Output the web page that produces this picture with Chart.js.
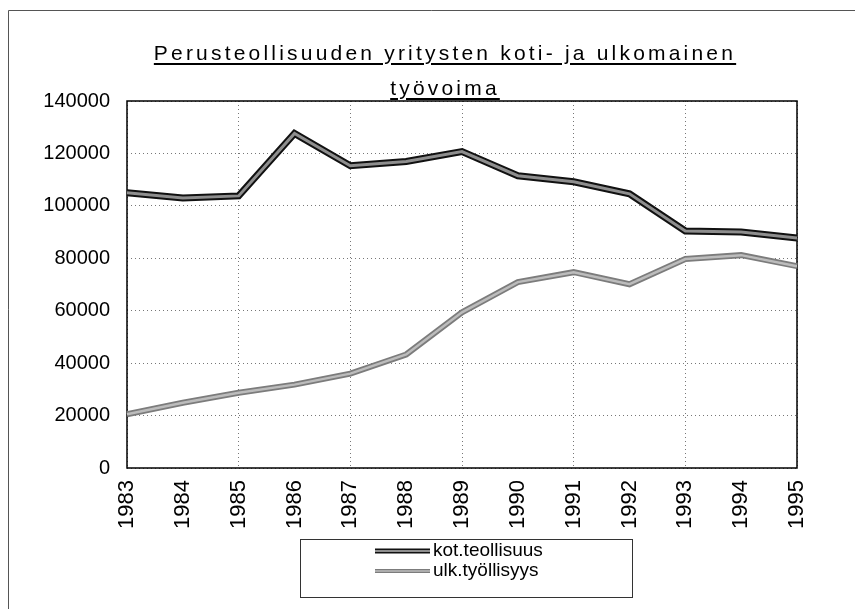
<!DOCTYPE html>
<html>
<head>
<meta charset="utf-8">
<script src="https://cdn.jsdelivr.net/npm/chart.js@4/dist/chart.umd.min.js"></script>
<style>
    html, body { margin: 0; padding: 0; background: #fff; overflow: hidden; }
    #wrap { position: relative; width: 863px; height: 609px; }
    #kaavio { position: absolute; left: 0; top: 0; }
    #otsikko {
        position: absolute; left: 27px; width: 836px; top: 35px;
        text-align: center; color: #000;
        font: 21px "Liberation Sans", Arial, sans-serif;
        line-height: 35px; letter-spacing: 3.2px;
        text-decoration: underline; text-underline-offset: 3px;
    }
</style>
</head>
<body>
<div id="wrap">
    <canvas id="kaavio" width="863" height="609"></canvas>
    <div id="otsikko">Perusteollisuuden yritysten koti- ja ulkomainen<br>työvoima</div>
</div>
<script>
// ================================================================
// Perusteollisuuden yritysten koti- ja ulkomainen työvoima
// ================================================================

const vuodet = ['1983', '1984', '1985', '1986', '1987', '1988', '1989',
                '1990', '1991', '1992', '1993', '1994', '1995'];

const kotTeollisuus = [105000, 103000, 103800, 127600, 115300, 116900, 120700,
                       111500, 109200, 104600, 90400, 90000, 87700];

const ulkTyollisyys = [20500, 24900, 28700, 31800, 36000, 43300, 59400,
                       70900, 74700, 70100, 79700, 81200, 77000];

const sarjaNimet = ['kot.teollisuus', 'ulk.työllisyys'];

const FONTTI = '"Liberation Sans", Arial, sans-serif';

// tyylit: alla leveämpi tumma viiva, päällä kapeampi harmaa
const TYYLIT = [
    { ala: '#111', alaLeveys: 7, paa: '#8e8e8e', paaLeveys: 3 },
    { ala: '#7c7c7c', alaLeveys: 6, paa: '#bcbcbc', paaLeveys: 2.5 }
];

function teeSarjat() {
    const arvot = [kotTeollisuus, ulkTyollisyys];
    const sarjat = [];
    arvot.forEach((data, i) => {
        const t = TYYLIT[i];
        sarjat.push({
            label: sarjaNimet[i], data, tyyli: t, selite: true,
            borderColor: t.paa, borderWidth: t.paaLeveys,
            pointRadius: 0, tension: 0, order: 0
        });
        sarjat.push({
            label: sarjaNimet[i] + '_ala', data,
            borderColor: t.ala, borderWidth: t.alaLeveys,
            pointRadius: 0, tension: 0, order: 1
        });
    });
    return sarjat;
}

// Kehykset: kuvan reunaviivat + piirtoalueen laatikko
const kehysPlugin = {
    id: 'kehys',
    beforeDraw(chart) {
        const ctx = chart.ctx;
        ctx.save();
        ctx.fillStyle = '#fff';
        ctx.fillRect(0, 0, chart.width, chart.height);
        ctx.strokeStyle = '#555';
        ctx.lineWidth = 1;
        ctx.beginPath();
        ctx.moveTo(8.5, chart.height);
        ctx.lineTo(8.5, 10.5);
        ctx.lineTo(855, 10.5);
        ctx.stroke();
        ctx.restore();
    },
    beforeDatasetsDraw(chart) {
        const { ctx, chartArea: a } = chart;
        ctx.save();
        ctx.strokeStyle = '#000';
        ctx.lineWidth = 1.5;
        ctx.strokeRect(a.left, a.top, a.right - a.left, a.bottom - a.top);
        ctx.restore();
    }
};

// Selite laatikossa, kaksi riviä
const selitePlugin = {
    id: 'selite',
    afterDraw(chart) {
        const ctx = chart.ctx;
        const box = { x: 300, y: 539, w: 332, h: 58 };
        ctx.save();
        ctx.strokeStyle = '#333';
        ctx.lineWidth = 1;
        ctx.strokeRect(box.x + 0.5, box.y + 0.5, box.w, box.h);
        ctx.font = '19px ' + FONTTI;
        ctx.textBaseline = 'middle';
        ctx.fillStyle = '#000';
        const rivit = chart.data.datasets.filter(d => d.selite);
        rivit.forEach((d, i) => {
            const y = box.y + 12 + i * 20;
            [[d.tyyli.ala, d.tyyli.alaLeveys - 2], [d.tyyli.paa, d.tyyli.paaLeveys - 1]].forEach(([c, w]) => {
                ctx.strokeStyle = c;
                ctx.lineWidth = w;
                ctx.beginPath();
                ctx.moveTo(box.x + 75, y);
                ctx.lineTo(box.x + 130, y);
                ctx.stroke();
            });
            ctx.fillText(d.label, box.x + 133, y);
        });
        ctx.restore();
    }
};

new Chart(document.getElementById('kaavio'), {
    type: 'line',
    data: { labels: vuodet, datasets: teeSarjat() },
    options: {
        responsive: false,
        animation: false,
        layout: { padding: { left: 0, right: 66, top: 101, bottom: 0 } },
        plugins: {
            legend: { display: false },
            title: { display: false },
            tooltip: { enabled: false }
        },
        scales: {
            x: {
                offset: false,
                afterFit: s => { s.height = 141; },
                grid: {
                    drawTicks: false,
                    color: c => (c.index % 2 === 0 ? '#777' : 'rgba(0,0,0,0)'),
                    lineWidth: 1
                },
                border: { display: false, dash: [1, 3] },
                ticks: {
                    color: '#000', padding: 12,
                    minRotation: 90, maxRotation: 90, autoSkip: false,
                    font: { family: FONTTI, size: 22 }
                }
            },
            y: {
                min: 0, max: 140000,
                afterFit: s => { s.width = 127; },
                grid: { drawTicks: false, color: '#777', lineWidth: 1 },
                border: { display: false, dash: [1, 3] },
                ticks: {
                    stepSize: 20000, color: '#000', padding: 17,
                    font: { family: FONTTI, size: 20 },
                    callback: v => String(v)
                }
            }
        }
    },
    plugins: [kehysPlugin, selitePlugin]
});
</script>
</body>
</html>
